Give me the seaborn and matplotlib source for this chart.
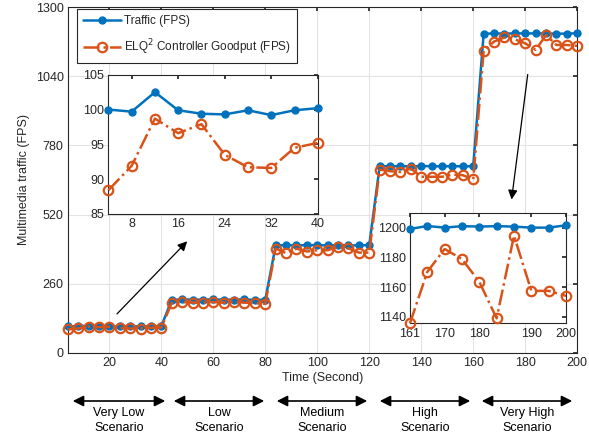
import numpy as np
import pandas as pd
import matplotlib
matplotlib.use("Agg")
import matplotlib.pyplot as plt
import seaborn as sns

# --- data ---
time_s = list(range(4, 201, 4))

traffic_very_low = [100.0, 99.7, 102.5, 99.9, 99.4, 99.3, 99.9, 99.2, 99.9, 100.2]
goodput_very_low = [88.4, 91.9, 98.7, 96.6, 97.9, 93.5, 91.7, 91.6, 94.5, 95.2]
traffic_low = [199, 201, 200, 200, 201, 200, 200, 201, 199, 200]
goodput_low = [187, 191, 189, 189, 191, 189, 191, 189, 187, 184]
traffic_medium = [404, 405, 404, 405, 405, 404, 405, 404, 404, 405]
goodput_medium = [392, 375, 392, 381, 386, 386, 398, 393, 377, 377]
traffic_high = [702, 701, 702, 701, 702, 702, 701, 702, 701, 702]
goodput_high = [689, 683, 680, 693, 662, 662, 662, 670, 668, 652]
traffic_very_high = [1199.1, 1201.1, 1200.0, 1201.0, 1200.7, 1201.0, 1200.7, 1200.0, 1200.0, 1201.6]
goodput_very_high = [1135.5, 1170.2, 1185.6, 1178.8, 1163.5, 1138.9, 1194.6, 1157.4, 1157.4, 1154.0]

traffic = traffic_very_low + traffic_low + traffic_medium + traffic_high + traffic_very_high
goodput = goodput_very_low + goodput_low + goodput_medium + goodput_high + goodput_very_high

y_ticks = [0, 260, 520, 780, 1040, 1300]
x_ticks = list(range(20, 201, 20))
inset1_ticks = [8, 16, 24, 32, 40]
inset1_yticks = [85, 90, 95, 100, 105]
inset2_ticks = [164, 172, 180, 192, 200]
inset2_labels = ["161", "170", "180", "190", "200"]
inset2_yticks = [1140, 1160, 1180, 1200]

scenarios = ["Very Low\nScenario", "Low\nScenario", "Medium\nScenario",
             "High\nScenario", "Very High\nScenario"]

df = pd.DataFrame({"Time": time_s, "Traffic": traffic, "Goodput": goodput})

BLUE = "#0072BD"
ORANGE = "#D95319"

sns.set_theme(style="whitegrid")
plt.rcParams["font.family"] = ["Liberation Sans", "DejaVu Sans"]
plt.rcParams["xtick.direction"] = "in"
plt.rcParams["ytick.direction"] = "in"
plt.rcParams["axes.edgecolor"] = "#262626"
plt.rcParams["axes.linewidth"] = 0.8
plt.rcParams["grid.color"] = "#e3e3e3"
plt.rcParams["grid.linewidth"] = 0.8
plt.rcParams["xtick.color"] = "#262626"
plt.rcParams["ytick.color"] = "#262626"


def dibuja_series(ax, d):
    sns.lineplot(data=d, x="Time", y="Traffic", ax=ax, color=BLUE, lw=1.8,
                 marker="o", markersize=5, markeredgecolor=BLUE,
                 markerfacecolor=BLUE, markeredgewidth=1,
                 label="Traffic (FPS)", zorder=3, clip_on=False)
    sns.lineplot(data=d, x="Time", y="Goodput", ax=ax, color=ORANGE, lw=1.8,
                 linestyle="-.", marker="o", markersize=6.8,
                 markeredgecolor=ORANGE, markerfacecolor="none",
                 markeredgewidth=1.6,
                 label="ELQ$^2$ Controller Goodput (FPS)", zorder=4, clip_on=False)


def estilo_ejes(ax, size=8.5):
    for s in ax.spines.values():
        s.set_visible(True)
        s.set_color("#262626")
        s.set_linewidth(0.8)
    ax.tick_params(axis="both", which="both", direction="in", length=3,
                   top=True, right=True, labelsize=size, pad=3,
                   colors="#262626")


fig = plt.figure(figsize=(5.89, 4.40), dpi=100)

# --- main axes ---
ax = fig.add_axes([0.115, 0.198, 0.865, 0.786])
dibuja_series(ax, df)
ax.set_xlim(4, 200)
ax.set_ylim(0, 1300)
ax.set_xticks(x_ticks)
ax.set_yticks(y_ticks)
ax.set_xlabel("Time (Second)", fontsize=9, labelpad=2, color="#262626")
ax.set_ylabel("Multimedia traffic (FPS)", fontsize=9, labelpad=4, color="#262626")
ax.grid(True)
estilo_ejes(ax, 9)
leg = ax.legend(loc="upper left", bbox_to_anchor=(0.018, 0.995), borderaxespad=0,
                fontsize=8.5, frameon=True, fancybox=False, handlelength=3.2,
                labelspacing=0.9, borderpad=0.5, handletextpad=0.3)
leg.get_frame().set_edgecolor("#262626")
leg.get_frame().set_linewidth(0.8)
leg.get_frame().set_alpha(1)
leg.set_zorder(10)

# flechas hacia los insets
ax.annotate("", xy=(50.7, 427), xytext=(22.2, 139),
            arrowprops=dict(arrowstyle="-|>", color="black", lw=0.9,
                            mutation_scale=14))
ax.annotate("", xy=(174.6, 566), xytext=(181.1, 1057),
            arrowprops=dict(arrowstyle="-|>", color="black", lw=0.9,
                            mutation_scale=14))

# --- inset 1: very low scenario ---
ax1 = fig.add_axes([0.184, 0.514, 0.3555, 0.316])
dibuja_series(ax1, df[df["Time"] <= 40])
ax1.set_xlim(4, 40)
ax1.set_ylim(85, 105)
ax1.set_xticks(inset1_ticks)
ax1.set_yticks(inset1_yticks)
ax1.set_xlabel("")
ax1.set_ylabel("")
ax1.grid(False)
ax1.legend().remove()
estilo_ejes(ax1, 9)

# --- inset 2: very high scenario ---
ax2 = fig.add_axes([0.696, 0.265, 0.265, 0.2514])
dibuja_series(ax2, df[df["Time"] >= 164])
ax2.set_xlim(164, 200)
ax2.set_ylim(1135.5, 1210)
ax2.set_xticks(inset2_ticks)
ax2.set_xticklabels(inset2_labels)
ax2.set_yticks(inset2_yticks)
ax2.set_xlabel("")
ax2.set_ylabel("")
ax2.grid(False)
ax2.legend().remove()
estilo_ejes(ax2, 9)

# --- escenarios debajo del eje x ---
arrow_px = [(70, 168), (171, 267), (274, 370), (377, 473), (479, 575)]
W, H = 589.0, 440.0
for (x0, x1), nombre in zip(arrow_px, scenarios):
    fig.patches.append(matplotlib.patches.FancyArrowPatch(
        (x0 / W, 1 - 401 / H), (x1 / W, 1 - 401 / H),
        transform=fig.transFigure, arrowstyle="<|-|>", mutation_scale=16,
        color="black", lw=1.2))
    fig.text((x0 + x1) / 2 / W, 1 - 407 / H, nombre, ha="center", va="top",
             fontsize=9, linespacing=1.3, color="black")

fig.savefig("out.png", dpi=100)
